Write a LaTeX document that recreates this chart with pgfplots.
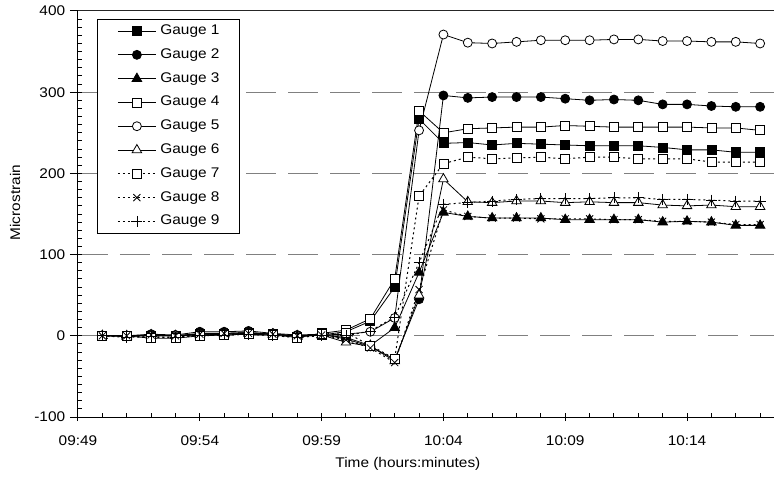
\documentclass[border=0pt]{standalone}
\usepackage{fontspec}
\setmainfont{Liberation Sans}[FakeStretch=1.1]
\usepackage{pgfplots}
\usepackage{pgfplotstable}
\pgfplotsset{compat=1.18}
\newcommand{\lf}{\fontsize{14}{16}\selectfont}

\pgfplotstableread{
t g1 g2 g3 g4 g5 g6 g7 g8 g9
1 0 0 0 0 0 0 0 0 0
2 0 0 -1 0 0 0 0 0 -2
3 0 2 1 -3 0 0 -2 1 -1
4 0 1 0 -3 0 0 -2 0 -2
5 2 5 3 0 2 1 0 2 1
6 2 5 3 1 3 2 1 3 1
7 3 6 4 2 4 3 2 3 2
8 2 3 2 1 2 2 1 2 0
9 -1 1 0 -2 0 -1 -2 0 -2
10 1 2 1 3 1 1 2 1 0
11 5 -4 -2 7 2 -8 4 -5 0
12 18 -13 -12 21 5 -13 -12 -15 6
13 60 -29 10 70 22 -31 -28 -33 23
14 267 45 78 277 253 50 172 57 90
15 237 296 152 250 371 193 212 155 162
16 238 293 147 255 361 165 220 147 164
17 235 294 145 256 360 164 218 145 166
18 237 294 145 257 362 166 219 145 168
19 236 294 145 257 364 166 220 144 169
20 235 292 143 259 364 164 218 144 169
21 234 290 143 258 364 165 220 144 169
22 234 291 143 257 365 164 220 143 170
23 234 290 143 257 365 164 218 143 170
24 232 285 140 257 363 161 218 141 168
25 229 285 141 257 363 160 218 141 168
26 229 283 140 256 362 161 214 140 167
27 226 282 136 256 362 159 214 137 166
28 226 282 136 253 360 159 214 137 166
}\data

\begin{document}
\lf
\begin{tikzpicture}[font=\lf]
\path[use as bounding box] (-78pt,-60pt) rectangle (697pt,417pt);
\begin{axis}[
  scale only axis, width=696pt, height=406pt,
  xmin=0, xmax=28.57, ymin=-100, ymax=400,
  axis x line*=bottom, axis y line*=left,
  axis line style={line width=1pt},
  xtick={0,5,10,15,20,25},
  xticklabels={09:49,09:54,09:59,10:04,10:09,10:14},
  minor xtick={1,2,3,4,6,7,8,9,11,12,13,14,16,17,18,19,21,22,23,24,26,27,28},
  ytick={-100,0,100,200,300,400},
  yticklabels={-100,0,100,200,300,400},
  minor ytick={-90,-80,...,390},
  xtick align=center, ytick align=outside,
  major tick length=8pt, minor tick length=4pt,
  every tick/.style={black, line width=1pt},
  minor x tick style={yshift=2pt},
  minor y tick style={xshift=4pt},
  ymajorgrids,
  grid style={black!50, line width=1pt, dash pattern=on 30pt off 12pt},
  tick label style={font=\lf},
  xticklabel style={yshift=-10pt},
  every axis y label/.style={at={(axis description cs:-0.0905,0.528)}, rotate=90, anchor=center, font=\lf},
  every axis x label/.style={at={(axis description cs:0.474,0)}, yshift=-47pt, anchor=center, font=\lf},
  ylabel={Microstrain},
  xlabel={Time (hours:minutes)},
  legend cell align=left,
  legend style={at={(axis description cs:0.0273,0.98)}, anchor=north west,
    draw=black, line width=0.8pt, fill=white, font=\lf,
    inner xsep=20pt, inner ysep=5pt, row sep=10.8pt, column sep=4pt,
    nodes={inner sep=0pt, text height=10pt, text depth=3pt}},
  legend image code/.code={\draw[mark repeat=2,mark phase=2] plot coordinates {(0pt,0pt) (19pt,0pt) (38pt,0pt)};},
  every axis plot/.append style={black, line width=0.8pt},
]
\addplot[mark=square*, mark size=4.5pt] table[x=t,y=g1] {\data};
\addlegendentry{Gauge 1}
\addplot[mark=*, mark size=4.5pt] table[x=t,y=g2] {\data};
\addlegendentry{Gauge 2}
\addplot[mark=triangle*, mark size=5.5pt] table[x=t,y=g3] {\data};
\addlegendentry{Gauge 3}
\addplot[mark=square*, mark size=4.5pt, mark options={fill=white}] table[x=t,y=g4] {\data};
\addlegendentry{Gauge 4}
\addplot[mark=*, mark size=4.5pt, mark options={fill=white}] table[x=t,y=g5] {\data};
\addlegendentry{Gauge 5}
\addplot[mark=triangle*, mark size=5.5pt, mark options={fill=white}] table[x=t,y=g6] {\data};
\addlegendentry{Gauge 6}
\addplot[dash pattern=on 2pt off 3pt, line width=1pt, mark=square*, mark size=4.5pt, mark options={fill=white, solid, line width=0.8pt}] table[x=t,y=g7] {\data};
\addlegendentry{Gauge 7}
\addplot[dash pattern=on 2pt off 3pt, line width=1pt, mark=x, mark size=5pt, mark options={solid, line width=0.8pt}] table[x=t,y=g8] {\data};
\addlegendentry{Gauge 8}
\addplot[dash pattern=on 2pt off 3pt, line width=1pt, mark=+, mark size=5.5pt, mark options={solid, line width=0.8pt}] table[x=t,y=g9] {\data};
\addlegendentry{Gauge 9}
\draw[black!85, line width=1pt] (axis cs:0,400) -- (axis cs:28.57,400);
\end{axis}
\end{tikzpicture}
\end{document}
